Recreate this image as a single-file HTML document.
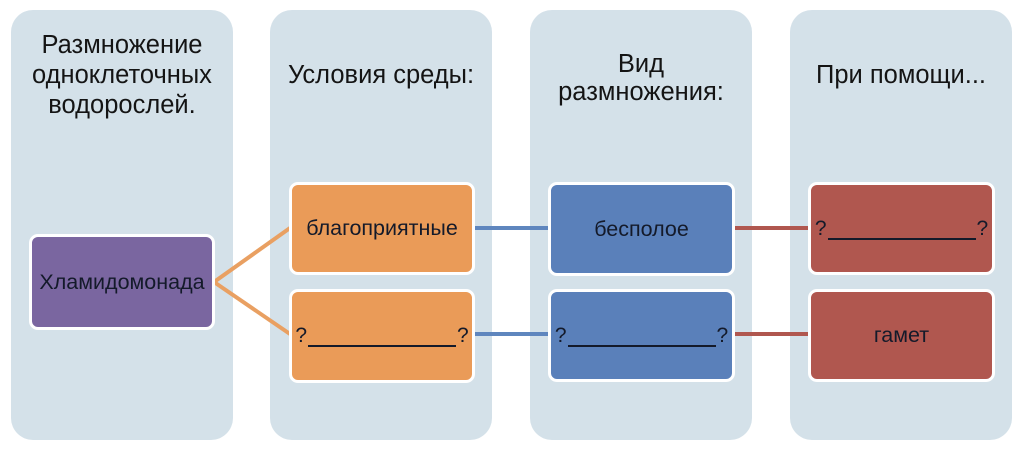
<!DOCTYPE html>
<html>
<head>
<meta charset="utf-8">
<style>
  html,body{margin:0;padding:0;background:#fff;}
  body{width:1024px;height:453px;position:relative;overflow:hidden;font-family:"Liberation Sans","Noto Sans CJK SC",sans-serif;}
  .col{position:absolute;top:10px;width:222px;height:430px;background:#d4e1e9;border-radius:22px;}
  .title{position:absolute;width:222px;text-align:center;font-size:25.5px;color:#141414;line-height:30px;}
  .box{position:absolute;box-sizing:border-box;border:3px solid #fff;border-radius:9px;display:flex;align-items:center;justify-content:center;font-size:21.5px;color:#141a2a;}
  .p{background:#7a66a0;}
  .o{background:#ea9b58;}
  .b{background:#5a80ba;}
  .r{background:#b0574f;}
  .q{display:flex;align-items:baseline;font-size:21px;}
  .u{display:inline-block;width:148px;height:2px;background:#141a2a;position:relative;top:3px;margin:0 1px;overflow:hidden;color:transparent;font-size:1px;line-height:1px;}
  svg{position:absolute;left:0;top:0;}
</style>
</head>
<body>
  <div class="col" style="left:11px;"></div>
  <div class="col" style="left:270px;"></div>
  <div class="col" style="left:530px;"></div>
  <div class="col" style="left:790px;"></div>

  <div class="title" style="left:11px;top:30px;">Размножение<br>одноклеточных<br>водорослей.</div>
  <div class="title" style="left:270px;top:60px;">Условия среды:</div>
  <div class="title" style="left:530px;top:50px;line-height:28px;">Вид<br>размножения:</div>
  <div class="title" style="left:790px;top:60px;">При помощи...</div>

  <svg width="1024" height="453">
    <line x1="214" y1="282" x2="290" y2="228" stroke="#e9a062" stroke-width="4"/>
    <line x1="214" y1="282" x2="290" y2="334" stroke="#e9a062" stroke-width="4"/>
    <line x1="474" y1="228" x2="550" y2="228" stroke="#5f86be" stroke-width="4"/>
    <line x1="474" y1="334" x2="550" y2="334" stroke="#5f86be" stroke-width="4"/>
    <line x1="733" y1="228" x2="810" y2="228" stroke="#b0574f" stroke-width="4"/>
    <line x1="733" y1="334" x2="810" y2="334" stroke="#b0574f" stroke-width="4"/>
  </svg>

  <div class="box p" style="left:29px;top:234px;width:186px;height:96px;">Хламидомонада</div>

  <div class="box o" style="left:289px;top:182px;width:186px;height:93px;">благоприятные</div>
  <div class="box o" style="left:289px;top:289px;width:186px;height:94px;"><span class="q">?<span class="u">_______________</span>?</span></div>

  <div class="box b" style="left:548px;top:182px;width:187px;height:94px;">бесполое</div>
  <div class="box b" style="left:548px;top:289px;width:187px;height:93px;"><span class="q">?<span class="u">_______________</span>?</span></div>

  <div class="box r" style="left:808px;top:182px;width:187px;height:93px;"><span class="q">?<span class="u">_______________</span>?</span></div>
  <div class="box r" style="left:808px;top:289px;width:187px;height:93px;">гамет</div>
</body>
</html>
